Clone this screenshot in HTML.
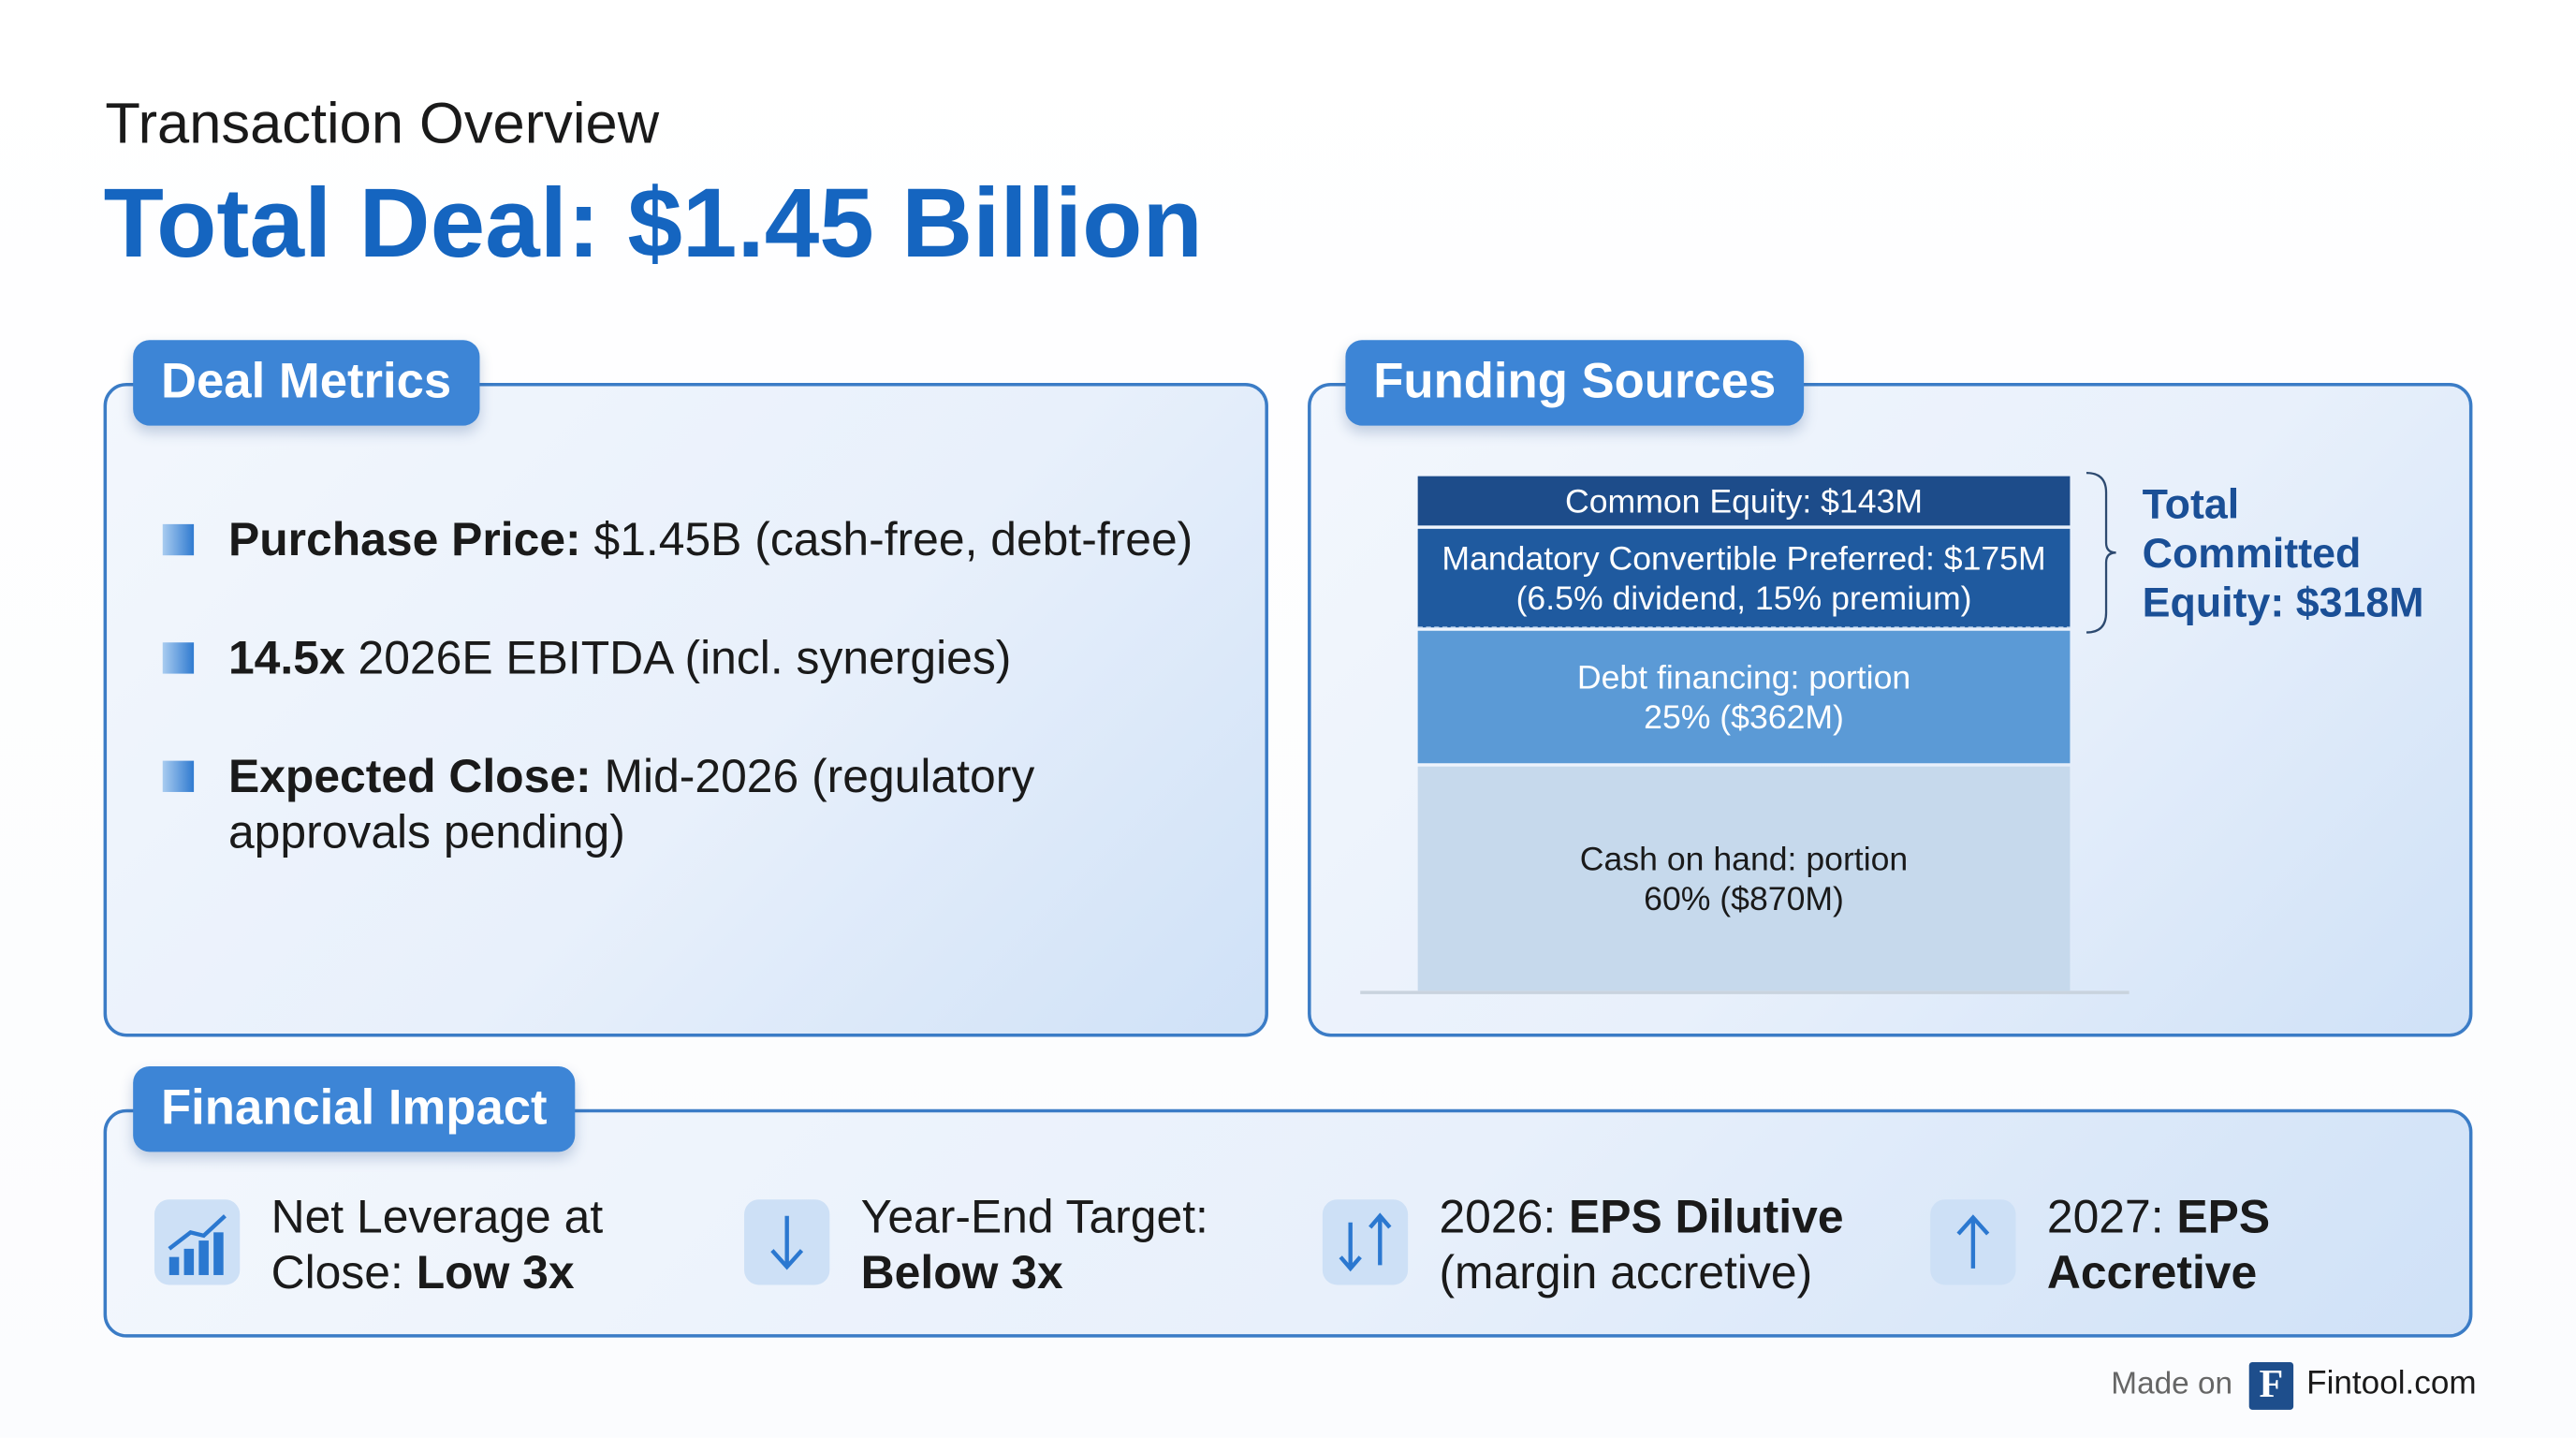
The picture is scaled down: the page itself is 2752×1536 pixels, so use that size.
<!DOCTYPE html>
<html><head><meta charset="utf-8">
<style>
html,body{margin:0;padding:0;background:#fff;}
body{width:2752px;height:1536px;overflow:hidden;font-family:"Liberation Sans",sans-serif;}
#root{position:absolute;left:0;top:0;width:1568px;height:875px;transform:scale(1.75510);transform-origin:0 0;background:linear-gradient(180deg,#fff 0%,#fbfcfe 100%);}
.abs{position:absolute;}
.panel{position:absolute;border:2px solid #3b7cc6;border-radius:14px;background:linear-gradient(135deg,#f3f7fd 0%,#e8f0fb 55%,#cfe1f7 100%);box-sizing:border-box;}
.tab{position:absolute;background:#3d85d6;border-radius:10px;color:#fff;font-weight:bold;font-size:30px;line-height:52px;padding:0 17px;box-shadow:0 4px 8px rgba(40,80,140,.25);white-space:nowrap;}
.bullet{position:absolute;width:19px;height:19px;background:linear-gradient(90deg,#a9ccf0,#2f7ad0);}
.btxt{position:absolute;left:139px;font-size:28.4px;color:#1a1a1a;line-height:34px;white-space:nowrap;}
.icon{position:absolute;width:52px;height:52px;border-radius:9px;background:#cde0f6;}
.itxt{position:absolute;font-size:28.4px;line-height:34px;color:#1a1a1a;white-space:nowrap;}
</style></head>
<body>
<div id="root">
<div class="abs" style="left:64px;top:56px;font-size:35px;color:#1a1a1a;">Transaction Overview</div>
<div class="abs" style="left:63px;top:101px;font-size:60px;font-weight:bold;color:#1565c0;">Total Deal: $1.45 Billion</div>

<div class="panel" style="left:63px;top:233px;width:709px;height:398px;"></div>
<div class="tab" style="left:81px;top:207px;">Deal Metrics</div>
<div class="bullet" style="left:99px;top:319px;"></div>
<div class="btxt" style="top:312px;"><b>Purchase Price:</b> $1.45B (cash-free, debt-free)</div>
<div class="bullet" style="left:99px;top:391px;"></div>
<div class="btxt" style="top:384px;"><b>14.5x</b> 2026E EBITDA (incl. synergies)</div>
<div class="bullet" style="left:99px;top:463px;"></div>
<div class="btxt" style="top:456px;"><b>Expected Close:</b> Mid-2026 (regulatory<br>approvals pending)</div>

<div class="panel" style="left:796px;top:233px;width:709px;height:398px;"></div>
<div class="tab" style="left:819px;top:207px;">Funding Sources</div>
<svg class="abs" style="left:0;top:0" width="1568" height="875" id="chart"></svg>

<div class="panel" style="left:63px;top:675px;width:1442px;height:139px;"></div>
<div class="tab" style="left:81px;top:649px;">Financial Impact</div>

<div class="icon" style="left:94px;top:730px;">
<svg width="52" height="52"><rect x="9" y="35" width="6" height="11" fill="#2b78d0"/><rect x="18" y="30" width="6" height="16" fill="#2b78d0"/><rect x="27" y="25" width="6" height="21" fill="#2b78d0"/><rect x="36" y="20" width="6" height="26" fill="#2b78d0"/><path d="M9 30 L22 20 L30 22 L43 10" stroke="#2b78d0" stroke-width="2.5" fill="none"/></svg></div>
<div class="itxt" style="left:165px;top:724px;">Net Leverage at<br>Close: <b>Low 3x</b></div>
<div class="icon" style="left:453px;top:730px;">
<svg width="52" height="52"><path d="M26 10 V40 M17 31 L26 41 L35 31" stroke="#2b78d0" stroke-width="2.5" fill="none"/></svg></div>
<div class="itxt" style="left:524px;top:724px;">Year-End Target:<br><b>Below 3x</b></div>
<div class="icon" style="left:805px;top:730px;">
<svg width="52" height="52"><path d="M17 14 V42 M11 35 L17 42 L23 35 M35 40 V10 M29 17 L35 10 L41 17" stroke="#2b78d0" stroke-width="2.5" fill="none"/></svg></div>
<div class="itxt" style="left:876px;top:724px;">2026: <b>EPS Dilutive</b><br>(margin accretive)</div>
<div class="icon" style="left:1175px;top:730px;">
<svg width="52" height="52"><path d="M26 42 V12 M17 21 L26 11 L35 21" stroke="#2b78d0" stroke-width="2.5" fill="none"/></svg></div>
<div class="itxt" style="left:1246px;top:724px;">2027: <b>EPS<br>Accretive</b></div>

<div class="abs" style="left:1285px;top:832px;font-size:19px;color:#666;">Made on</div>
<div class="abs" style="left:1369px;top:829px;width:27px;height:29px;background:#1e4e8c;color:#fff;font-family:'Liberation Serif',serif;font-weight:bold;font-size:24px;text-align:center;line-height:29px;border-radius:2px;">F</div>
<div class="abs" style="left:1404px;top:831px;font-size:20px;color:#1a1a1a;">Fintool.com</div>
</div>
<script>
// bottom-to-top stacked segments
const categories = ["Cash on hand", "Debt financing", "Mandatory Convertible Preferred", "Common Equity"];
const values = [870, 362, 175, 143];
const labelLines = [["Cash on hand: portion","60% ($870M)"],["Debt financing: portion","25% ($362M)"],["Mandatory Convertible Preferred: $175M","(6.5% dividend, 15% premium)"],["Common Equity: $143M"]];
const fills = ["#c6d9ec","#5b9ad6","#1f5a9f","#1d4c8a"];
const textColors = ["#1a1a1a","#ffffff","#ffffff","#ffffff"];
const equityTotal = [318];

const NS = "http://www.w3.org/2000/svg";
const svg = document.getElementById('chart');
const baseY = 604, barX = 863, barW = 397;
function segH(v, lines){ return v*0.11 + lines*26.5 - 10.2; }
function mk(t, a){ const e=document.createElementNS(NS,t); for(const k in a) e.setAttribute(k,a[k]); svg.appendChild(e); return e; }
let y = baseY;
let equityTop = null;
values.forEach((v,i)=>{
  const h = segH(v, labelLines[i].length);
  const top = y - h;
  const r = mk('rect',{x:barX,y:top+1,width:barW,height:h-2,fill:fills[i]});
  
  
  const n = labelLines[i].length, lh = 24, mid = top + h/2;
  labelLines[i].forEach((ln,j)=>{
    const t = mk('text',{x:barX+barW/2,y:mid + (j-(n-1)/2)*lh + 7,'text-anchor':'middle','font-size':20.3,fill:textColors[i],'font-family':'Liberation Sans, sans-serif'});
    t.textContent = ln;
    
    
  });
  if(i===2){ const d=mk('line',{x1:barX,x2:barX+barW,y1:top+h-1,y2:top+h-1,stroke:'#cfe0f3','stroke-dasharray':'3 2','stroke-width':1});
      }
  if(i===3){ equityTop = top+1; }
  y = top;
});
const base = mk('line',{x1:828,x2:1296,y1:baseY,y2:baseY,stroke:'#c9d3de','stroke-width':2});


// brace spans equity segments (top of common to bottom of preferred)
const eTop = equityTop, eBot = y + segH(values[3],1) + segH(values[2],2);
const m = (eTop+eBot)/2;
const bx = 1270;
const br = mk('path',{d:`M${bx} ${eTop-2} Q${bx+12} ${eTop-2} ${bx+12} ${eTop+10} L${bx+12} ${m-6} Q${bx+12} ${m} ${bx+18} ${m} Q${bx+12} ${m} ${bx+12} ${m+6} L${bx+12} ${eBot-10} Q${bx+12} ${eBot+2} ${bx} ${eBot+2}`,fill:'none',stroke:'#2d4a70','stroke-width':1.3});


["Total","Committed","Equity: $" + equityTotal[0] + "M"].forEach((s,j)=>{
  const t = mk('text',{x:1304,y:m-21+j*30,'font-size':25.5,'font-weight':'bold',fill:'#1a4f96','font-family':'Liberation Sans, sans-serif'});
  t.textContent = s;
  
  
});
</script>
</body></html>
